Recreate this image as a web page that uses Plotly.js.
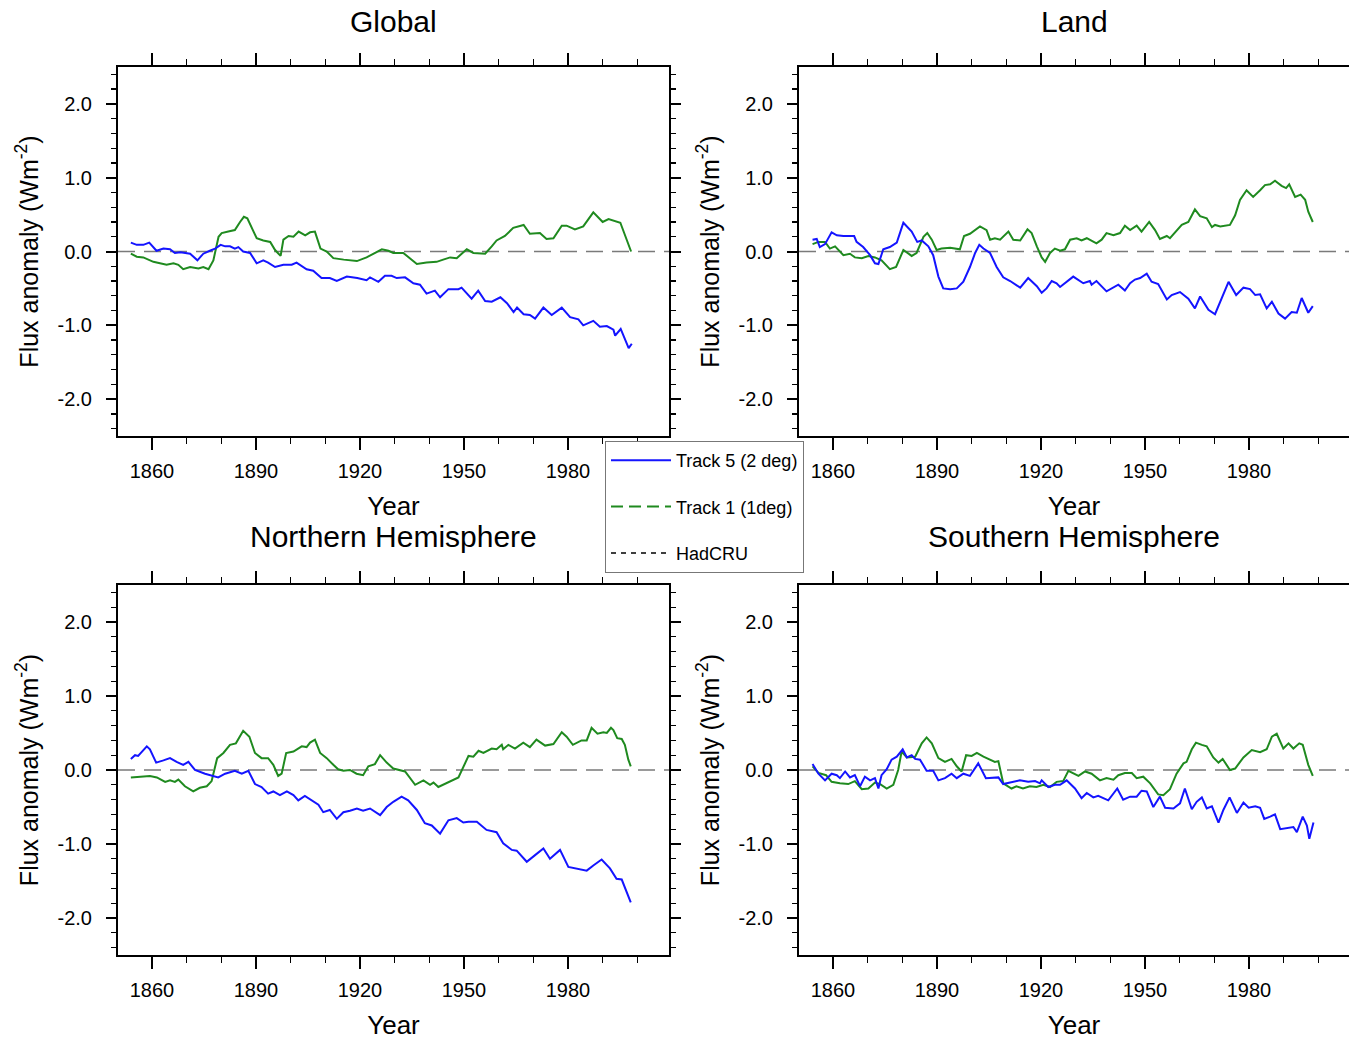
<!DOCTYPE html>
<html>
<head>
<meta charset="utf-8">
<script src="https://cdn.plot.ly/plotly-3.0.1.min.js"></script>
<style>
html,body{margin:0;padding:0;background:#fff;}
#chart{width:1349px;height:1041px;}
</style>
</head>
<body>
<div id="chart"></div>
<script>
// ---------------- DATA (year, flux anomaly in W m^-2) ----------------
const panelTitles = ["Global", "Land", "Northern Hemisphere", "Southern Hemisphere"];
const seriesNames = ["Track 5 (2 deg)", "Track 1 (1deg)", "HadCRU"];
const xTickVals = [1860, 1890, 1920, 1950, 1980];
const xTickText = ["1860", "1890", "1920", "1950", "1980"];
const yTickVals = [-2, -1, 0, 1, 2];
const yTickText = ["-2.0", "-1.0", "0.0", "1.0", "2.0"];

const globalTrack5 = [[1853.9,0.12],[1855.6,0.09],[1857.5,0.09],[1859.2,0.12],[1861.3,0.01],[1863.3,0.04],[1865.2,0.03],[1866.6,-0.02],[1868.2,-0.01],[1871.0,-0.03],[1873.1,-0.12],[1874.8,-0.03],[1876.7,0.01],[1878.2,0.04],[1879.8,0.09],[1881.1,0.07],[1882.5,0.07],[1883.9,0.04],[1884.9,0.06],[1886.3,0.00],[1888.3,-0.02],[1890.2,-0.16],[1892.1,-0.12],[1893.5,-0.15],[1895.5,-0.21],[1897.9,-0.18],[1900.3,-0.18],[1901.7,-0.15],[1904.6,-0.24],[1906.5,-0.26],[1908.9,-0.36],[1911.3,-0.36],[1913.3,-0.40],[1916.2,-0.34],[1919.2,-0.36],[1921.9,-0.39],[1922.9,-0.35],[1925.3,-0.41],[1927.2,-0.33],[1929.1,-0.33],[1930.6,-0.36],[1933.0,-0.35],[1935.4,-0.43],[1937.3,-0.45],[1939.2,-0.57],[1941.6,-0.53],[1943.1,-0.62],[1945.5,-0.51],[1948.4,-0.51],[1949.3,-0.49],[1952.2,-0.64],[1954.1,-0.53],[1956.1,-0.67],[1958.0,-0.68],[1960.5,-0.62],[1962.4,-0.70],[1964.3,-0.82],[1965.3,-0.76],[1967.2,-0.85],[1969.0,-0.86],[1970.5,-0.91],[1972.9,-0.76],[1975.3,-0.86],[1978.2,-0.76],[1980.6,-0.89],[1983.0,-0.92],[1984.4,-1.00],[1987.3,-0.94],[1989.2,-1.02],[1991.2,-1.01],[1993.1,-1.06],[1993.6,-1.14],[1995.2,-1.05],[1997.5,-1.31],[1998.4,-1.25]];

const globalTrack1 = [[1853.9,-0.03],[1855.6,-0.07],[1857.5,-0.08],[1860.4,-0.14],[1862.3,-0.16],[1864.2,-0.18],[1866.2,-0.16],[1867.6,-0.18],[1869.0,-0.24],[1871.0,-0.21],[1873.4,-0.23],[1874.8,-0.21],[1876.3,-0.24],[1877.7,-0.12],[1879.2,0.20],[1880.1,0.25],[1882.0,0.27],[1883.9,0.29],[1885.4,0.40],[1886.5,0.47],[1887.5,0.45],[1888.8,0.31],[1890.2,0.18],[1892.1,0.15],[1894.1,0.13],[1895.5,0.02],[1897.1,-0.06],[1897.9,0.16],[1899.4,0.21],[1900.8,0.20],[1902.3,0.27],[1904.2,0.22],[1905.6,0.26],[1907.0,0.27],[1908.6,0.04],[1910.4,0.00],[1912.3,-0.09],[1915.3,-0.11],[1919.1,-0.13],[1921.9,-0.08],[1924.3,-0.02],[1926.3,0.03],[1928.2,0.01],[1929.6,-0.02],[1932.5,-0.02],[1934.4,-0.09],[1936.4,-0.17],[1939.2,-0.15],[1942.1,-0.14],[1944.0,-0.11],[1946.0,-0.08],[1947.9,-0.09],[1950.8,0.03],[1952.7,-0.02],[1956.1,-0.03],[1958.0,0.07],[1959.4,0.15],[1961.8,0.21],[1964.2,0.32],[1967.2,0.36],[1969.0,0.24],[1971.9,0.25],[1973.8,0.17],[1975.8,0.18],[1978.2,0.35],[1979.6,0.35],[1982.0,0.30],[1984.4,0.34],[1985.4,0.40],[1987.3,0.53],[1990.0,0.40],[1991.7,0.44],[1995.1,0.39],[1996.6,0.20],[1998.2,0.00]];

const landTrack5 = [[1854.1,0.16],[1855.3,0.17],[1856.2,0.06],[1857.7,0.10],[1859.6,0.26],[1861.1,0.22],[1863.0,0.21],[1864.9,0.21],[1866.1,0.21],[1866.8,0.13],[1868.7,0.06],[1870.7,-0.05],[1872.1,-0.16],[1873.1,-0.17],[1874.5,0.03],[1876.4,0.06],[1878.4,0.12],[1880.3,0.39],[1882.7,0.27],[1884.3,0.13],[1885.6,0.15],[1887.5,0.07],[1888.9,-0.05],[1890.4,-0.34],[1891.8,-0.50],[1893.8,-0.51],[1895.7,-0.50],[1897.6,-0.41],[1899.5,-0.21],[1901.0,-0.02],[1902.2,0.09],[1903.4,0.04],[1905.3,-0.02],[1907.2,-0.21],[1909.1,-0.35],[1911.1,-0.40],[1914.0,-0.49],[1916.3,-0.36],[1918.8,-0.47],[1920.2,-0.56],[1921.6,-0.50],[1923.1,-0.40],[1924.5,-0.43],[1925.5,-0.48],[1926.9,-0.43],[1929.3,-0.34],[1932.2,-0.43],[1934.1,-0.40],[1934.6,-0.45],[1936.0,-0.40],[1938.9,-0.54],[1940.9,-0.49],[1942.3,-0.45],[1944.2,-0.53],[1945.7,-0.43],[1947.1,-0.38],[1948.6,-0.36],[1950.5,-0.30],[1951.9,-0.41],[1953.8,-0.44],[1956.3,-0.65],[1957.7,-0.59],[1960.1,-0.55],[1962.5,-0.64],[1964.4,-0.77],[1965.9,-0.61],[1968.3,-0.79],[1970.2,-0.85],[1972.1,-0.63],[1974.1,-0.41],[1976.3,-0.59],[1978.4,-0.49],[1980.3,-0.51],[1981.8,-0.59],[1983.2,-0.58],[1985.1,-0.77],[1986.6,-0.68],[1988.5,-0.84],[1990.4,-0.91],[1992.3,-0.82],[1993.8,-0.83],[1995.2,-0.63],[1997.1,-0.83],[1998.4,-0.74]];

const landTrack1 = [[1854.1,0.10],[1855.8,0.13],[1857.7,0.13],[1859.1,0.04],[1860.6,0.07],[1863.0,-0.05],[1864.9,-0.03],[1866.3,-0.08],[1868.3,-0.09],[1870.2,-0.06],[1872.1,-0.08],[1874.0,-0.12],[1876.4,-0.24],[1878.2,-0.21],[1880.3,0.02],[1882.7,-0.06],[1884.1,-0.02],[1886.1,0.20],[1887.2,0.25],[1888.5,0.16],[1889.9,0.02],[1891.3,0.04],[1893.8,0.05],[1896.6,0.03],[1897.8,0.21],[1899.5,0.24],[1902.4,0.34],[1904.3,0.29],[1905.3,0.16],[1906.7,0.18],[1908.2,0.16],[1910.6,0.27],[1912.0,0.16],[1914.0,0.15],[1916.1,0.30],[1917.3,0.25],[1918.8,0.07],[1920.2,-0.08],[1921.2,-0.14],[1922.6,-0.02],[1924.0,0.04],[1925.5,0.01],[1926.9,0.03],[1928.4,0.16],[1930.3,0.18],[1931.7,0.15],[1933.2,0.18],[1936.0,0.11],[1937.5,0.16],[1938.9,0.25],[1940.9,0.22],[1942.8,0.25],[1944.2,0.35],[1945.7,0.29],[1947.6,0.35],[1949.0,0.27],[1951.2,0.40],[1952.9,0.29],[1954.3,0.17],[1956.3,0.21],[1957.2,0.18],[1958.7,0.26],[1960.6,0.36],[1962.5,0.40],[1964.4,0.57],[1965.9,0.48],[1967.8,0.45],[1969.3,0.33],[1970.2,0.36],[1971.7,0.34],[1974.5,0.36],[1976.0,0.49],[1977.4,0.70],[1979.3,0.83],[1981.2,0.74],[1983.2,0.83],[1984.6,0.90],[1986.1,0.91],[1987.5,0.96],[1989.4,0.89],[1990.7,0.86],[1991.6,0.91],[1993.3,0.74],[1994.9,0.77],[1996.2,0.70],[1997.1,0.54],[1998.4,0.40]];

const nhTrack5 = [[1853.9,0.15],[1855.1,0.20],[1856.0,0.19],[1858.5,0.32],[1859.4,0.28],[1861.2,0.10],[1863.3,0.13],[1865.2,0.16],[1867.1,0.11],[1869.0,0.07],[1870.5,0.11],[1872.4,0.00],[1875.3,-0.05],[1877.2,-0.07],[1879.1,-0.10],[1881.1,-0.05],[1883.9,-0.01],[1885.9,-0.05],[1887.8,-0.01],[1889.7,-0.19],[1891.6,-0.23],[1893.5,-0.32],[1895.0,-0.29],[1896.9,-0.34],[1898.9,-0.29],[1900.8,-0.34],[1902.2,-0.41],[1904.1,-0.35],[1906.1,-0.41],[1908.0,-0.47],[1909.4,-0.57],[1911.3,-0.54],[1913.3,-0.66],[1915.2,-0.57],[1917.1,-0.55],[1919.1,-0.52],[1920.9,-0.55],[1922.9,-0.52],[1925.8,-0.61],[1927.7,-0.50],[1929.6,-0.43],[1932.0,-0.36],[1933.9,-0.41],[1936.4,-0.54],[1938.7,-0.72],[1940.7,-0.75],[1943.1,-0.86],[1945.5,-0.68],[1947.9,-0.65],[1949.8,-0.71],[1951.3,-0.70],[1953.7,-0.70],[1956.5,-0.81],[1959.4,-0.84],[1961.3,-0.99],[1963.8,-1.08],[1965.2,-1.09],[1968.1,-1.24],[1970.5,-1.15],[1972.9,-1.06],[1974.8,-1.20],[1977.7,-1.08],[1980.1,-1.31],[1982.5,-1.33],[1985.4,-1.36],[1987.3,-1.29],[1989.7,-1.21],[1992.1,-1.33],[1994.0,-1.47],[1995.5,-1.48],[1998.1,-1.79]];

const nhTrack1 = [[1853.9,-0.10],[1857.5,-0.09],[1859.4,-0.08],[1861.4,-0.10],[1863.8,-0.16],[1865.2,-0.14],[1866.6,-0.16],[1867.6,-0.13],[1869.5,-0.22],[1871.9,-0.29],[1873.8,-0.24],[1875.8,-0.22],[1877.2,-0.15],[1878.8,0.16],[1880.6,0.23],[1882.5,0.34],[1884.2,0.36],[1886.3,0.53],[1888.1,0.45],[1889.7,0.23],[1891.6,0.16],[1893.5,0.16],[1895.0,0.07],[1896.4,-0.08],[1897.4,-0.05],[1898.7,0.23],[1900.8,0.25],[1903.2,0.32],[1904.6,0.31],[1905.6,0.37],[1907.0,0.41],[1908.5,0.23],[1910.4,0.16],[1912.3,0.07],[1913.7,0.01],[1915.2,-0.01],[1917.1,0.00],[1919.0,-0.05],[1920.9,-0.07],[1922.4,0.05],[1924.3,0.08],[1925.8,0.20],[1927.7,0.10],[1929.6,0.02],[1933.0,-0.02],[1935.9,-0.20],[1938.3,-0.14],[1940.2,-0.20],[1941.2,-0.17],[1942.6,-0.23],[1945.0,-0.18],[1946.5,-0.14],[1948.4,-0.10],[1951.3,0.19],[1952.7,0.18],[1954.2,0.26],[1955.6,0.23],[1958.0,0.29],[1959.4,0.28],[1960.9,0.34],[1961.3,0.28],[1962.8,0.34],[1964.7,0.29],[1967.1,0.37],[1969.0,0.31],[1970.9,0.41],[1973.4,0.33],[1975.8,0.35],[1978.2,0.51],[1979.6,0.45],[1981.4,0.34],[1983.9,0.40],[1985.4,0.40],[1986.8,0.57],[1988.5,0.49],[1990.2,0.51],[1991.2,0.50],[1992.4,0.57],[1993.1,0.54],[1994.2,0.43],[1995.5,0.42],[1996.4,0.34],[1997.4,0.14],[1998.1,0.05]];

const shTrack5 = [[1854.1,0.08],[1855.8,-0.05],[1857.7,-0.14],[1859.6,-0.05],[1861.1,-0.07],[1862.0,-0.11],[1863.5,-0.02],[1864.9,-0.10],[1866.3,-0.07],[1867.8,-0.22],[1869.2,-0.09],[1870.7,-0.14],[1872.1,-0.11],[1873.1,-0.25],[1874.0,-0.07],[1875.5,0.01],[1876.9,0.14],[1878.4,0.18],[1880.1,0.28],[1881.3,0.17],[1882.7,0.20],[1883.7,0.15],[1885.1,0.14],[1887.0,-0.01],[1888.9,-0.01],[1890.4,-0.14],[1892.3,-0.11],[1894.2,-0.05],[1895.7,-0.11],[1897.6,-0.05],[1899.5,-0.08],[1901.9,0.09],[1904.1,-0.11],[1906.2,-0.11],[1907.7,-0.10],[1909.1,-0.19],[1911.5,-0.16],[1913.9,-0.14],[1916.3,-0.16],[1918.3,-0.15],[1919.7,-0.18],[1920.2,-0.14],[1922.1,-0.23],[1924.0,-0.20],[1925.5,-0.20],[1927.4,-0.14],[1929.8,-0.25],[1931.7,-0.38],[1933.2,-0.31],[1935.1,-0.37],[1936.5,-0.35],[1939.4,-0.41],[1942.0,-0.25],[1943.7,-0.40],[1945.7,-0.36],[1947.6,-0.36],[1949.0,-0.28],[1950.5,-0.29],[1952.4,-0.50],[1954.3,-0.36],[1955.8,-0.51],[1958.2,-0.52],[1960.1,-0.45],[1961.5,-0.25],[1963.5,-0.53],[1964.9,-0.43],[1966.4,-0.37],[1967.8,-0.52],[1969.3,-0.49],[1971.2,-0.71],[1972.6,-0.54],[1974.4,-0.37],[1976.5,-0.58],[1978.4,-0.44],[1979.9,-0.51],[1981.8,-0.49],[1983.2,-0.51],[1984.4,-0.66],[1986.1,-0.63],[1987.5,-0.60],[1989.0,-0.80],[1991.4,-0.78],[1992.8,-0.77],[1993.8,-0.84],[1995.5,-0.63],[1996.7,-0.75],[1997.4,-0.93],[1998.6,-0.71]];

const shTrack1 = [[1854.1,0.05],[1855.8,-0.04],[1858.0,-0.07],[1859.6,-0.16],[1862.0,-0.18],[1864.4,-0.19],[1866.3,-0.15],[1868.3,-0.26],[1870.2,-0.25],[1872.1,-0.17],[1873.6,-0.19],[1875.5,-0.25],[1877.4,-0.20],[1878.8,0.00],[1879.8,0.25],[1881.3,0.17],[1883.7,0.18],[1885.6,0.36],[1887.0,0.44],[1888.5,0.36],[1890.4,0.16],[1892.3,0.11],[1894.2,0.15],[1895.7,0.05],[1897.1,-0.02],[1898.4,0.20],[1900.0,0.19],[1901.5,0.23],[1903.4,0.18],[1905.3,0.14],[1906.7,0.11],[1907.7,0.12],[1909.1,-0.18],[1911.5,-0.25],[1912.9,-0.22],[1914.8,-0.25],[1916.8,-0.22],[1918.7,-0.23],[1920.7,-0.20],[1922.6,-0.23],[1924.5,-0.16],[1926.4,-0.15],[1927.9,-0.01],[1930.8,-0.08],[1932.7,-0.02],[1934.6,-0.05],[1937.0,-0.14],[1938.9,-0.11],[1940.9,-0.13],[1942.3,-0.07],[1944.2,-0.04],[1946.2,-0.04],[1947.6,-0.11],[1949.5,-0.09],[1951.5,-0.18],[1953.8,-0.33],[1955.3,-0.34],[1957.2,-0.26],[1959.1,-0.05],[1961.1,0.09],[1962.0,0.11],[1963.5,0.28],[1964.7,0.37],[1966.4,0.34],[1967.8,0.32],[1969.7,0.17],[1971.2,0.10],[1972.4,0.15],[1974.5,0.00],[1976.0,0.02],[1978.4,0.17],[1980.8,0.27],[1983.2,0.24],[1985.1,0.28],[1986.6,0.45],[1988.0,0.49],[1989.9,0.29],[1991.4,0.36],[1992.8,0.29],[1994.5,0.36],[1995.5,0.34],[1997.1,0.07],[1998.4,-0.08]];

// ---------------- LAYOUT / STYLE ----------------
const W = 1349, H = 1041;
const FONT = "'Liberation Sans', Arial, Helvetica, sans-serif";
const BLUE = "#1414ff";
const GREEN = "#1f8a1f";

// panel pixel boxes: [left, right, top, bottom]
const boxes = [[118, 669, 67, 436], [799, 1349, 67, 436], [118, 669, 585, 955], [799, 1349, 585, 955]];
const pxPerYear = 416 / 120;
const panelData = [[globalTrack5, globalTrack1], [landTrack5, landTrack1], [nhTrack5, nhTrack1], [shTrack5, shTrack1]];

const traces = [];
const layout = {
  width: W, height: H,
  margin: {l: 0, r: 0, t: 0, b: 0, pad: 0},
  paper_bgcolor: "#fff", plot_bgcolor: "#fff",
  font: {family: FONT, color: "#000"},
  showlegend: true,
  legend: {
    x: 605 / W, y: 1 - 441 / H, xanchor: "left", yanchor: "top",
    bgcolor: "#fff", bordercolor: "#777", borderwidth: 1,
    font: {family: FONT, size: 18, color: "#000"},
    traceorder: "grouped", tracegroupgap: 20, itemwidth: 60
  },
  shapes: [], annotations: []
};

boxes.forEach((b, i) => {
  const n = i === 0 ? "" : String(i + 1);
  const xa = "x" + n, ya = "y" + n;
  const x0 = 1860 - (152 - 118) / pxPerYear;
  const x1 = x0 + (b[1] - b[0]) / pxPerYear;
  const isRight = i % 2 === 1;

  layout["xaxis" + n] = {
    domain: [b[0] / W, b[1] / W], range: [x0, x1], anchor: ya,
    tickmode: "array", tickvals: xTickVals, ticktext: xTickText,
    ticks: "outside", ticklen: 12, tickwidth: 2, tickcolor: "#000",
    showline: true, linewidth: 2, linecolor: "#000", mirror: "ticks",
    showgrid: false, zeroline: false,
    minor: {tickmode: "linear", tick0: 1850, dtick: 10, ticks: "outside", ticklen: 6, tickwidth: 1.3, tickcolor: "#000", showgrid: false},
    tickfont: {family: FONT, size: 20, color: "#000"},
    ticklabelstandoff: 4,
    title: {text: "Year", font: {family: FONT, size: 26, color: "#000"}, standoff: 16},
    automargin: false, fixedrange: true
  };
  layout["yaxis" + n] = {
    domain: [1 - b[3] / H, 1 - b[2] / H], range: [-2.5, 2.5], anchor: xa,
    tickmode: "array", tickvals: yTickVals, ticktext: yTickText,
    ticks: "outside", ticklen: 10, tickwidth: 2, tickcolor: "#000",
    showline: true, linewidth: 2, linecolor: "#000", mirror: isRight ? false : "ticks",
    showgrid: false, zeroline: false,
    minor: {tickmode: "linear", tick0: 0, dtick: 0.2, ticks: "outside", ticklen: 5, tickwidth: 1.3, tickcolor: "#000", showgrid: false},
    tickfont: {family: FONT, size: 20, color: "#000"},
    ticklabelstandoff: 10,
    title: {text: "Flux anomaly (Wm<sup>-2</sup>)", font: {family: FONT, size: 25, color: "#000"}, standoff: 12},
    automargin: false, fixedrange: true
  };

  // zero reference line
  layout.shapes.push({
    type: "line", xref: xa + " domain", yref: ya, x0: 0, x1: 1, y0: 0, y1: 0,
    line: {color: "#7a7a7a", width: 1.6, dash: "17px,9px"}, layer: "below"
  });

  // panel title
  layout.annotations.push({
    text: panelTitles[i], xref: "paper", yref: "paper",
    x: ((b[0] + b[1]) / 2) / W, y: 1 - (b[2] - (i < 2 ? 45 : 48)) / H,
    xanchor: "center", yanchor: "middle", showarrow: false,
    font: {family: FONT, size: 30, color: "#000"}
  });

  const [t5, t1] = panelData[i];
  traces.push({
    type: "scatter", mode: "lines", xaxis: xa, yaxis: ya,
    x: t1.map(p => p[0]), y: t1.map(p => p[1]),
    line: {color: GREEN, width: 2}, showlegend: false, hoverinfo: "skip"
  });
  traces.push({
    type: "scatter", mode: "lines", xaxis: xa, yaxis: ya,
    x: t5.map(p => p[0]), y: t5.map(p => p[1]),
    line: {color: BLUE, width: 2}, showlegend: false, hoverinfo: "skip"
  });
});

// legend entries
const legendStyles = [
  {color: BLUE, width: 2, dash: "solid"},
  {color: GREEN, width: 2, dash: "12px,6px"},
  {color: "#000", width: 1.5, dash: "5px,5px"}
];
seriesNames.forEach((name, k) => {
  traces.push({
    type: "scatter", mode: "lines", x: [null], y: [null], xaxis: "x", yaxis: "y",
    name: name, legendgroup: "g" + k, line: legendStyles[k], showlegend: true, hoverinfo: "skip"
  });
});

Plotly.newPlot("chart", traces, layout, {staticPlot: true, displayModeBar: false});
</script>
</body>
</html>
